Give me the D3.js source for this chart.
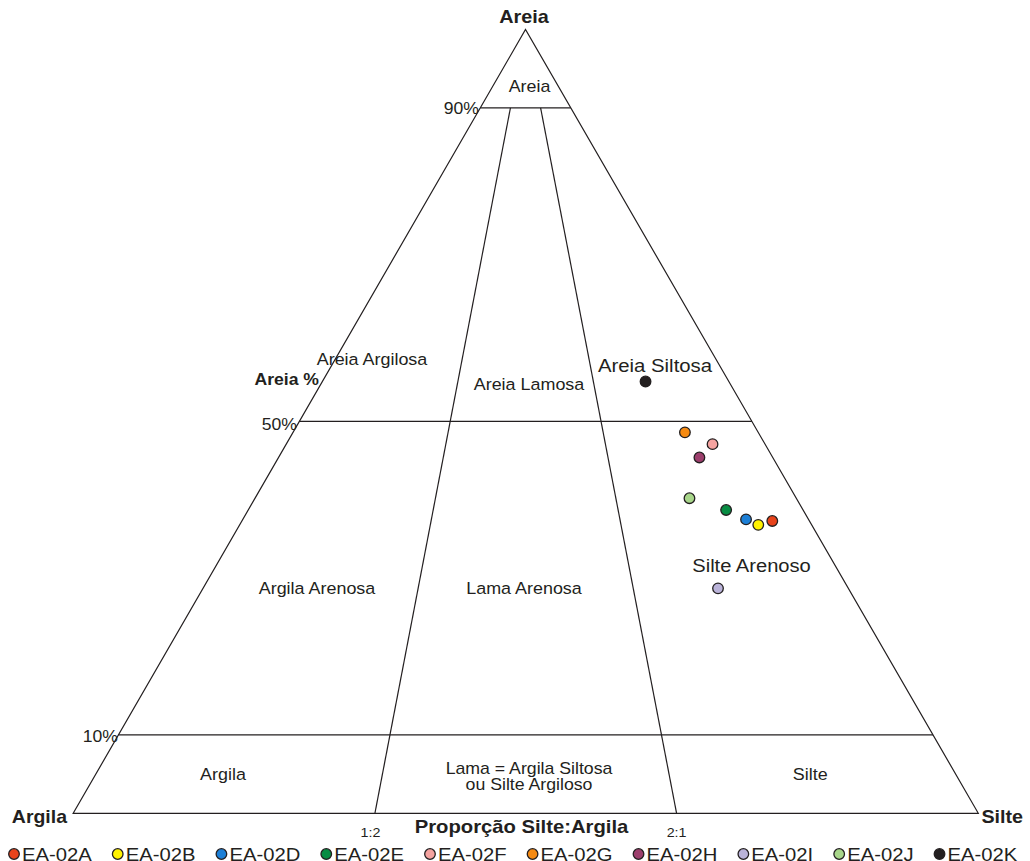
<!DOCTYPE html>
<html>
<head>
<meta charset="utf-8">
<script src="https://cdn.jsdelivr.net/npm/d3@7"></script>
<style>
  html, body { margin: 0; padding: 0; background: #fff; }
  svg { display: block; font-family: "Liberation Sans", Arial, sans-serif; }
</style>
</head>
<body>
<svg id="chart" width="1030" height="861"></svg>
<script>
// ---- Data (Areia = sand, Silte = silt, Argila = clay, percent) ----
const samples = ["EA-02A", "EA-02B", "EA-02D", "EA-02E", "EA-02F", "EA-02G", "EA-02H", "EA-02I", "EA-02J", "EA-02K"];
const sand    = [37.3, 36.8, 37.5, 38.7, 47.1, 48.6, 45.4, 28.7, 40.2, 55.1];
const silt    = [58.6, 57.3, 55.6, 52.8, 47.1, 43.3, 46.5, 56.9, 48.0, 35.7];
const clay    = [ 4.1,  5.9,  6.9,  8.5,  5.8,  8.1,  8.1, 14.4, 11.8,  9.2];
const colors  = ["#e8431b", "#fff200", "#1c7fd6", "#078c43", "#f5a3a0", "#f58a12", "#9c3e6c", "#bab3d9", "#a8d68a", "#231f20"];

// Folk (1954) class boundaries
const sandLevels = [10, 50, 90];          // horizontal lines (% Areia)
const sandLevelLabels = ["10%", "50%", "90%"];
const ratioSilt = [1/3, 2/3];              // silt fraction of mud
const ratioLabels = ["1:2", "2:1"];

// ---- Layout ----
const svg = d3.select("#chart");
const apex = [525.5, 29.5], left = [73.2, 813.3], right = [978.3, 813.3];
const ink = "#231f20";
const STRETCH = 1.1;

const yS = d3.scaleLinear().domain([0, 100]).range([left[1], apex[1]]);
const baseX = d3.scaleLinear().domain([0, 1]).range([left[0], right[0]]);
function project(sa, si, cl) {
  const t = sa + si + cl;
  const a = sa / t, s = si / t, c = cl / t;
  return [a * apex[0] + s * right[0] + c * left[0], yS(sa * 100 / t)];
}

const g = svg.append("g");
const line = d3.line();

// triangle
g.append("path")
  .attr("d", line([left, apex, right]) + "Z")
  .attr("fill", "none").attr("stroke", ink).attr("stroke-width", 1.2);

// horizontal sand lines
sandLevels.forEach(lv => {
  const p1 = project(lv, 0, 100 - lv), p2 = project(lv, 100 - lv, 0);
  g.append("path").attr("d", line([p1, p2]))
    .attr("stroke", ink).attr("stroke-width", 1.2).attr("fill", "none");
});

// ratio lines from base to 90% sand
ratioSilt.forEach(r => {
  const p1 = project(0, 100 * r, 100 * (1 - r));
  const p2 = project(90, 10 * r, 10 * (1 - r));
  g.append("path").attr("d", line([p1, p2]))
    .attr("stroke", ink).attr("stroke-width", 1.2).attr("fill", "none");
});

// ---- Text ----
function txt(str, x, y, size, anchor, weight) {
  return svg.append("text")
    .attr("transform", `translate(${x},${y}) scale(${STRETCH},1)`)
    .attr("font-size", size).attr("text-anchor", anchor || "middle")
    .attr("font-weight", weight || "normal").attr("fill", ink).text(str);
}
// vertex labels
txt("Areia", 524, 23, 18, "middle", "bold");
txt("Argila", 67, 823.3, 17.7, "end", "bold");
txt("Silte", 981.5, 823, 17.9, "start", "bold");
txt("Proporção Silte:Argila", 521.5, 833.3, 18.4, "middle", "bold");
txt("Areia %", 319, 385, 16, "end", "bold");

// percent labels on left edge
const pctPos = [[118, 741.5], [297, 429.5], [479, 114]];
sandLevelLabels.forEach((l, i) => txt(l, pctPos[i][0], pctPos[i][1], 16, "end"));

// ratio labels
ratioLabels.forEach((l, i) => txt(l, baseX(ratioSilt[i]) - (i === 0 ? 4.5 : 0), 836.5, 13, "middle"));

// region labels
txt("Areia", 529.5, 91.5, 16.2);
txt("Areia Argilosa", 372, 365, 16.3);
txt("Areia Lamosa", 529, 389.5, 16.3);
txt("Areia Siltosa", 655, 371.5, 18.5);
txt("Argila Arenosa", 317, 594, 16.3);
txt("Lama Arenosa", 524, 594, 16.3);
txt("Silte Arenoso", 751.5, 571.5, 18.3);
txt("Argila", 223, 780, 16.3);
txt("Lama = Argila Siltosa", 529, 774, 16.1);
txt("ou Silte Argiloso", 529, 790, 16.1);
txt("Silte", 810.3, 780, 16.3);

// ---- Points ----
const pts = samples.map((s, i) => ({ name: s, p: project(sand[i], silt[i], clay[i]), c: colors[i] }));
svg.append("g").selectAll("circle").data(pts).join("circle")
  .attr("cx", d => d.p[0]).attr("cy", d => d.p[1]).attr("r", 5.3)
  .attr("fill", d => d.c).attr("stroke", ink).attr("stroke-width", 1.3);

// ---- Legend ----
const lg = svg.append("g");
let cx = 14;
samples.forEach((s, i) => {
  lg.append("circle").attr("cx", cx).attr("cy", 854).attr("r", 5.3)
    .attr("fill", colors[i]).attr("stroke", ink).attr("stroke-width", 1.3);
  const t = lg.append("text")
    .attr("transform", `translate(${cx + 8},861) scale(${STRETCH},1)`)
    .attr("font-size", 18.4).attr("fill", ink).text(s);
  const w = t.node().getComputedTextLength() * STRETCH;
  cx = cx + 8 + w + 26;
});
</script>
</body>
</html>
